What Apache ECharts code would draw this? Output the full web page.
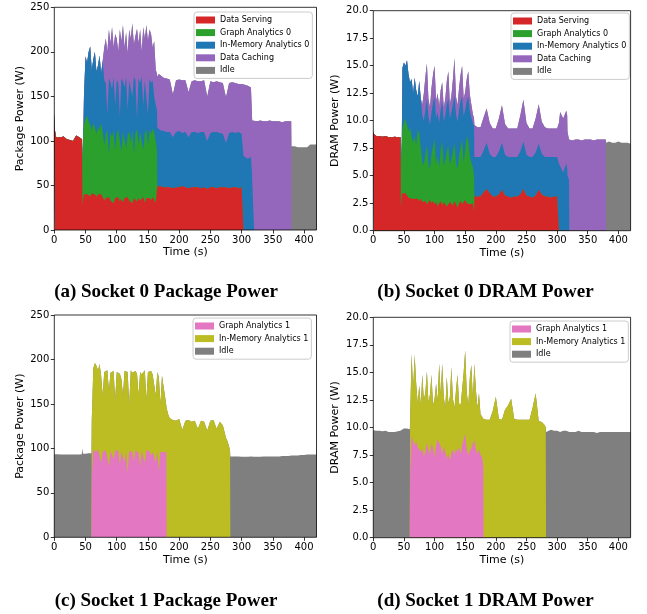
<!DOCTYPE html>
<html><head><meta charset="utf-8">
<script src="https://cdn.jsdelivr.net/npm/echarts@6/dist/echarts.min.js"></script>
<style>html,body{margin:0;padding:0;background:#fff}#c{width:647px;height:614px}</style>
</head><body><div id="c"></div>
<script>
// ---------- Socket 0 (panels a & b): shared time grid ----------
const tS0 = [0,1,3,5,10,15,20,25,30,35,40,44.5,
  45,46.5,
  47.5,50,52.5,55,57.5,60,62.5,65,67.5,70,72.5,75,77.5,
  80,82.5,85,87.5,90,92.5,95,97.5,100,102.5,105,107.5,110,112.5,115,117.5,120,122.5,125,127.5,130,132.5,135,137.5,140,142.5,145,147.5,150,152.5,155,157.5,160,162.5,
  164.5,165,167.5,
  170,175,180,185,190,195,200,205,210,215,220,225,230,235,240,245,250,255,260,265,270,275,280,285,290,295,300,
  302.5,303,305,310,315,316.5,317,319.5,320,
  325,330,335,340,345,350,355,360,365,370,375,
  379.5,380,385,390,395,400,405,410,415,420];
// active time ranges of each workload on socket 0
const rangeServing = [[0,302.5]];
const rangeGraph0 = [[45,164.5]];
const rangeInMem0 = [[47.5,319.5]];
const rangeCaching = [[80,379.5]];
const rangeIdleS0 = [[380,420]];

// (a) package power, W
const pkgServing = [132,112,104,103,104,105,102,101,100,106,104,102,
  28,36,
  40,42,40,42,38,41,39,40,37,40,38,40,37,
  33,36,34,37,33,35,30,36,34,37,32,35,31,36,34,37,33,35,30,36,34,32,36,33,35,37,31,36,34,36,33,37,35,31,
  30,49,48,
  49,48,48,48,47,48,48,49,48,47,48,48,48,47,48,46,48,48,47,48,48,48,47,48,48,47,48,
  48];
const pkgGraph0 = [47,74,
  78,83,88,80,80,71,81,75,71,76,74,80,73,
  62,72,78,48,77,69,82,54,74,76,68,53,79,76,58,69,78,63,82,50,75,81,60,77,77,53,77,77,61,76,75,77,75,69,
  60];
const pkgInMem0 = [32,70,60,78,88,68,72,85,70,69,84,56,80,
  73,57,18,85,56,54,60,50,60,52,28,82,57,48,80,29,57,68,38,86,59,12,74,55,60,50,60,54,35,58,57,54,40,40,
  45,66,65,
  63,63,62,62,57,62,63,60,62,57,62,62,61,63,62,54,61,62,63,61,60,50,62,62,61,63,60,
  60,83,84,80,82,66,65,64];
const pkgCaching = [37,50,70,55,44,70,33,80,47,35,97,42,63,45,50,63,57,49,82,36,50,101,40,60,28,88,47,63,82,55,55,37,62,40,
  40,57,62,
  62,60,60,59,48,58,58,59,58,51,57,58,58,57,58,50,58,56,57,57,57,51,56,56,56,54,56,
  56,80,79,82,78,92,58,58,
  122,122,123,122,122,123,122,122,122,121,122,122,
  122];
const pkgIdleS0 = [94,94,93,93,93,93,96,96,96];

// (b) DRAM power, W
const dramServing = [9.0,8.8,8.65,8.6,8.6,8.55,8.6,8.5,8.5,8.55,8.5,8.5,
  2.2,3.2,
  3.4,3.3,3.4,3.2,3.0,3.1,2.9,3.0,2.9,2.8,2.9,2.7,2.9,
  2.6,2.5,2.7,2.4,2.6,2.8,2.5,2.7,2.4,2.6,2.2,2.5,2.7,2.3,2.6,2.5,2.2,2.4,2.6,2.5,2.3,2.7,2.6,2.1,2.5,2.7,2.4,2.6,2.8,2.5,2.6,2.4,2.3,2.5,
  1.8,3.1,3.1,
  3.1,3.1,3.5,3.8,3.4,3.1,3.1,3.3,3.7,3.2,3.1,3.0,3.1,3.1,3.3,3.8,3.2,3.1,3.0,3.2,3.7,3.3,3.1,3.1,3.0,3.1,3.1,
  3.1];
const dramGraph0 = [3.6,4.8,
  5.9,6.5,6.8,6.4,6.0,6.3,5.7,5.0,5.7,5.0,6.3,6.1,4.7,
  3.6,3.5,4.3,5.4,3.6,2.8,4.5,4.9,6.0,3.4,4.6,3.3,4.7,5.9,3.3,3.9,5.0,5.4,3.4,4.0,4.9,5.3,3.6,3.5,4.3,4.9,5.9,3.6,4.6,6.1,5.6,4.4,3.9,3.3,
  3.2];
const dramInMem0 = [5.5,5.5,4.8,5.9,5.2,4.1,5.2,4.5,5.3,5.0,3.0,4.8,4.4,
  4.3,4.0,4.0,4.2,4.2,4.0,3.8,4.0,3.8,4.2,4.0,4.0,3.6,3.6,4.0,4.1,4.3,4.2,4.2,4.3,4.3,4.3,4.4,4.3,4.2,4.2,3.9,4.2,3.6,3.2,4.0,4.1,4.1,4.0,
  4.5,3.6,3.6,
  3.6,3.6,3.8,4.2,3.6,3.6,3.6,3.9,4.3,3.7,3.6,3.7,3.6,3.6,3.9,4.3,3.7,3.6,3.7,3.9,4.2,3.7,3.6,3.6,3.7,3.6,3.6,
  3.6,6.1,6.0,5.3,6.1,5.6,5.0,4.6];
const dramCaching = [1.0,2.5,3.0,3.2,1.6,1.6,2.2,2.6,2.8,1.6,1.7,1.5,1.8,1.7,1.3,1.5,2.1,2.5,1.3,1.5,2.3,3.4,1.6,1.5,2.0,2.4,2.8,1.6,1.6,2.0,2.3,1.5,1.2,0.8,
  0.7,2.9,2.8,
  2.7,2.7,3.0,3.1,2.8,2.6,2.6,3.0,3.4,2.8,2.6,2.6,2.6,2.6,3.3,3.8,2.9,2.6,2.6,3.1,3.6,2.9,2.7,2.6,2.6,2.6,2.6,
  2.6,3.7,4.8,4.9,4.8,4.9,4.0,3.7,
  8.2,8.2,8.3,8.3,8.2,8.3,8.3,8.3,8.2,8.3,8.3,8.3,
  8.3];
const dramIdleS0 = [8.0,8.1,8.0,8.0,8.1,8.0,8.0,8.0,7.9];

// ---------- Socket 1 (panels c & d): shared time grid ----------
const tS1 = [0,5,10,15,20,25,30,35,40,44,45,46,50,55,59.5,
  60,62.5,65,67.5,70,72.5,75,77.5,80,82.5,85,87.5,90,92.5,95,97.5,100,102.5,105,107.5,110,112.5,115,117.5,120,122.5,125,127.5,130,132.5,135,137.5,140,142.5,145,147.5,150,152.5,155,157.5,160,162.5,165,167.5,170,172.5,175,177.5,
  179.5,180,182.5,
  185,190,195,200,205,210,215,220,225,230,235,240,245,250,255,260,265,270,275,
  277.5,280,281.5,282,
  285,290,295,300,305,310,315,320,325,330,335,340,345,350,355,360,365,370,375,380,385,390,395,400,405,410,415,420];
const rangeGraph1 = [[60,179.5]];
const rangeInMem1 = [[60,281.5]];
const rangeIdleS1 = [[0,59.5],[282,420]];

// (c) package power, W
const pkgGraph1 = [68,98,100,96,99,97,84,96,95,98,96,80,97,96,88,97,95,98,82,96,97,85,96,72,97,95,96,86,98,97,95,80,97,96,84,98,96,97,92,96,97,85,96,74,96,97,96,95,
  95];
const pkgInMem1 = [64,92,96,97,89,98,98,64,91,86,92,85,88,87,99,58,91,90,102,82,63,102,89,114,53,93,89,97,89,87,65,106,86,89,104,57,90,87,95,87,88,75,90,106,54,85,74,63,
  53,145,138,
  134,132,131,133,121,131,132,130,131,122,131,130,120,131,132,122,130,126,112,
  108,102,98];
const pkgIdleS1 = [93.5,93.5,93,93,93,93,93,93,93,93.5,100,94,94,94.5,94.5,
  91,
  91,91,91,90.5,90.5,90.5,91,90.5,90.5,90.5,91,91,91,91,91,91,91.5,91.5,91.5,92,92,92,92.5,92.5,93,93,93,93];

// (d) DRAM power, W
const dramGraph1 = [5.8,9.2,8.8,8.4,8.7,8.2,8.0,7.8,8.1,7.4,7.8,8.6,8.0,7.6,8.5,8.2,7.3,8.4,8.9,9.0,8.3,7.6,8.2,7.8,7.2,7.6,7.0,7.7,8.0,7.5,8.1,7.8,8.2,7.6,8.4,8.9,9.4,8.0,7.5,7.9,8.1,8.6,8.8,8.0,7.6,8.0,7.5,7.3,
  6.5];
const dramInMem1 = [4.7,7.5,4.7,8.2,5.3,4.0,5.8,4.2,6.7,5.1,5.4,6.5,4.3,5.4,6.3,3.8,5.3,5.6,3.5,6.8,4.7,8.2,4.6,4.0,7.4,4.6,5.8,7.8,4.6,4.3,5.3,7.0,4.0,4.4,5.1,6.1,7.6,5.2,4.5,6.6,7.6,4.0,7.0,5.4,4.2,5.1,3.7,3.7,
  4.3,10.7,10.7,
  10.7,10.7,11.5,12.8,10.8,10.7,11.6,12.0,12.6,10.8,10.7,10.7,10.7,10.7,10.7,11.8,13.1,10.6,10.5,
  10.4,10.2,10.0];
const dramIdleS1 = [9.75,9.7,9.7,9.65,9.7,9.6,9.6,9.6,9.65,9.7,9.7,9.8,9.9,9.9,9.85,
  9.6,
  9.7,9.8,9.7,9.7,9.6,9.7,9.7,9.6,9.6,9.6,9.7,9.6,9.6,9.6,9.6,9.6,9.5,9.6,9.6,9.6,9.6,9.6,9.6,9.6,9.6,9.6,9.6,9.6];

// axis tick labels
const xTicks = [0,50,100,150,200,250,300,350,400];
const captions = ['(a) Socket 0 Package Power','(b) Socket 0 DRAM Power','(c) Socket 1 Package Power','(d) Socket 1 DRAM Power'];

// ---------- build ----------
function spread(t, ranges, vals, name) {
  const out = [];
  let k = 0;
  t.forEach(function (x) {
    const on = ranges.some(function (r) { return x >= r[0] && x <= r[1]; });
    out.push(on ? vals[k++] : 0);
  });
  if (k !== vals.length) throw new Error(name + ': used ' + k + ' of ' + vals.length);
  return out;
}
const C = {serving:'#d62728', graph0:'#2ca02c', inmem0:'#1f77b4', caching:'#9467bd', idle:'#7f7f7f', graph1:'#e377c2', inmem1:'#bcbd22'};
const FONT = 'DejaVu Sans';
const panels = [
  {t:tS0, grid:{left:54.3, top:7.3, width:262.2, height:222.7}, ymax:250, yint:50, yname:'Package Power (W)', ygap:29, dram:false,
   legend:{left:194, top:12},
   layers:[['Data Serving',C.serving,rangeServing,pkgServing],['Graph Analytics 0',C.graph0,rangeGraph0,pkgGraph0],['In-Memory Analytics 0',C.inmem0,rangeInMem0,pkgInMem0],['Data Caching',C.caching,rangeCaching,pkgCaching],['Idle',C.idle,rangeIdleS0,pkgIdleS0]]},
  {t:tS0, grid:{left:373.3, top:10.7, width:257.3, height:220}, ymax:20, yint:2.5, yname:'DRAM Power (W)', ygap:33, dram:true,
   legend:{left:511, top:13},
   layers:[['Data Serving',C.serving,rangeServing,dramServing],['Graph Analytics 0',C.graph0,rangeGraph0,dramGraph0],['In-Memory Analytics 0',C.inmem0,rangeInMem0,dramInMem0],['Data Caching',C.caching,rangeCaching,dramCaching],['Idle',C.idle,rangeIdleS0,dramIdleS0]]},
  {t:tS1, grid:{left:54.3, top:315, width:262.2, height:222.3}, ymax:250, yint:50, yname:'Package Power (W)', ygap:29, dram:false,
   legend:{left:193, top:318},
   layers:[['Graph Analytics 1',C.graph1,rangeGraph1,pkgGraph1],['In-Memory Analytics 1',C.inmem1,rangeInMem1,pkgInMem1],['Idle',C.idle,rangeIdleS1,pkgIdleS1]]},
  {t:tS1, grid:{left:373.3, top:317.3, width:257.3, height:220.4}, ymax:20, yint:2.5, yname:'DRAM Power (W)', ygap:33, dram:true,
   legend:{left:510, top:321},
   layers:[['Graph Analytics 1',C.graph1,rangeGraph1,dramGraph1],['In-Memory Analytics 1',C.inmem1,rangeInMem1,dramInMem1],['Idle',C.idle,rangeIdleS1,dramIdleS1]]}
];
const capPos = [[166,292],[485.5,292],[166,601],[485.5,601]];

const option = {animation:false, grid:[], xAxis:[], yAxis:[], series:[], legend:[], graphic:[]};
panels.forEach(function (p, gi) {
  option.grid.push(Object.assign({show:true, borderColor:'#000', borderWidth:0.8, backgroundColor:'transparent', z:10}, p.grid));
  option.xAxis.push({type:'value', gridIndex:gi, min:0, max:420, interval:50,
    name:'Time (s)', nameLocation:'middle', nameGap:17, nameTextStyle:{fontFamily:FONT, fontSize:11, color:'#000'},
    axisLine:{show:false}, splitLine:{show:false},
    axisTick:{show:true, inside:false, length:3.5, lineStyle:{color:'#000', width:0.8}, customValues:xTicks},
    axisLabel:{fontFamily:FONT, fontSize:10, color:'#000', margin:5, customValues:xTicks,
      formatter:function (v) { return xTicks.indexOf(v) >= 0 ? String(v) : ''; }}});
  option.yAxis.push({type:'value', gridIndex:gi, min:0, max:p.ymax, interval:p.yint,
    name:p.yname, nameLocation:'middle', nameGap:p.ygap, nameTextStyle:{fontFamily:FONT, fontSize:11, color:'#000'},
    axisLine:{show:false}, splitLine:{show:false},
    axisTick:{show:true, inside:false, length:3.5, lineStyle:{color:'#000', width:0.8}},
    axisLabel:{fontFamily:FONT, fontSize:10, color:'#000', margin:5,
      formatter:function (v) { return p.dram ? v.toFixed(1) : String(v); }}});
  // stack the layers: each area is drawn from 0 up to the running total,
  // upper layers first so lower layers paint over them.
  const names = [];
  const running = p.t.map(function () { return 0; });
  const built = [];
  p.layers.forEach(function (L) {
    const vals = spread(p.t, L[2], L[3], L[0] + ' #' + gi);
    const top = running.map(function (r, i) { return +(r + vals[i]).toFixed(3); });
    for (let i = 0; i < running.length; i++) running[i] = top[i];
    names.push(L[0]);
    built.push({name:L[0], type:'line', xAxisIndex:gi, yAxisIndex:gi,
      symbol:'none', showSymbol:false, silent:true, color:L[1], itemStyle:{color:L[1]},
      lineStyle:{width:0, opacity:0}, areaStyle:{color:L[1], opacity:1, origin:'start'},
      emphasis:{disabled:true},
      data:p.t.map(function (x, i) { return [x, top[i]]; })});
  });
  built.reverse().forEach(function (s) { option.series.push(s); });
  option.legend.push({orient:'vertical', left:p.legend.left, top:p.legend.top, data:names, icon:'rect',
    itemWidth:19, itemHeight:7, itemGap:2.6, padding:[3,3,3,2], selectedMode:false,
    backgroundColor:'#fff', borderColor:'#ccc', borderWidth:1, borderRadius:3,
    textStyle:{fontFamily:FONT, fontSize:8, color:'#000', lineHeight:10}});
  option.graphic.push({type:'text', x:capPos[gi][0], y:capPos[gi][1], z:20,
    style:{text:captions[gi], font:'bold 19px "Liberation Serif"', fill:'#000', align:'center', textAlign:'center', verticalAlign:'middle', textVerticalAlign:'middle'}});
});
const chart = echarts.init(document.getElementById('c'), null, {renderer:'canvas'});
chart.setOption(option);
</script></body></html>
